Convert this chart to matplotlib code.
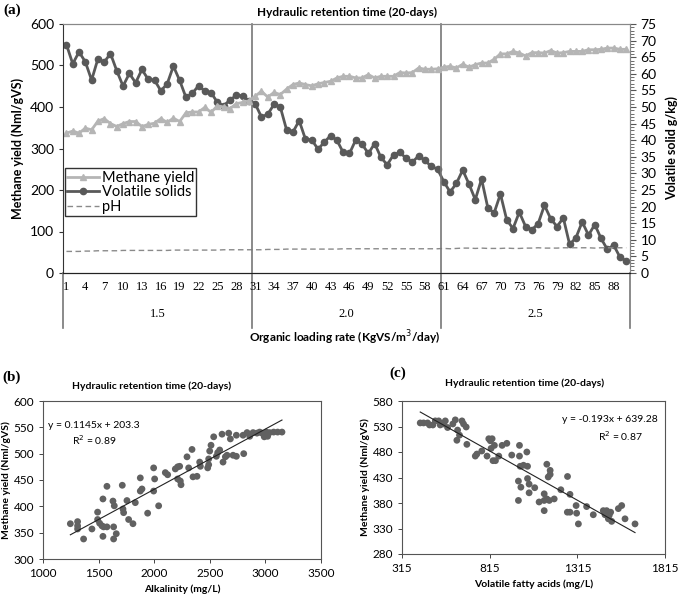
import matplotlib.pyplot as plt
import numpy as np
from matplotlib.ticker import MultipleLocator

# ---- panel (a) data, one value per day ----
days = np.arange(1, 91)
methane = [337, 342, 337, 349, 345, 366, 372, 360, 353, 360,
           365, 365, 353, 358, 361, 372, 363, 373, 365, 386,
           388, 388, 399, 387, 403, 400, 396, 408, 411, 415,
           426, 438, 424, 435, 430, 443, 454, 458, 454, 451,
           456, 459, 462, 470, 474, 474, 470, 470, 478, 470,
           474, 474, 474, 483, 482, 483, 494, 491, 491, 492,
           496, 498, 494, 503, 496, 502, 506, 506, 515, 528,
           528, 534, 530, 523, 531, 531, 530, 536, 530, 531,
           534, 534, 534, 538, 538, 539, 542, 542, 539, 539]
vs = [68.8, 63.0, 66.6, 63.6, 58.1, 64.5, 63.5, 66.1, 60.9, 56.3,
      60.1, 57.3, 61.3, 58.3, 58.1, 54.9, 56.9, 62.3, 58.0, 52.9,
      54.1, 56.4, 54.8, 54.3, 51.4, 50.4, 52.1, 53.5, 53.4, 51.9,
      51.0, 47.0, 47.8, 50.8, 50.0, 43.1, 42.4, 45.9, 40.3, 40.1,
      37.3, 39.4, 41.4, 40.0, 36.3, 36.0, 40.1, 38.8, 36.0, 39.0,
      34.8, 32.6, 35.6, 36.3, 34.6, 33.4, 35.3, 33.9, 32.1, 31.3,
      27.5, 24.4, 27.0, 31.0, 26.8, 22.1, 28.3, 19.6, 18.1, 23.8,
      16.0, 13.4, 18.3, 14.0, 13.0, 14.9, 20.4, 16.3, 14.0, 16.6,
      8.6, 10.6, 15.4, 11.4, 14.6, 10.4, 7.1, 8.4, 4.8, 3.6]
ph = [6.5, 6.5, 6.5, 6.6, 6.6, 6.7, 6.7, 6.7, 6.7, 6.8,
      6.8, 6.8, 6.8, 6.8, 6.8, 6.8, 6.8, 6.9, 6.9, 6.9,
      6.9, 6.9, 6.9, 6.9, 6.9, 7.0, 7.0, 7.0, 7.0, 7.0,
      7.0, 7.0, 7.1, 7.1, 7.1, 7.2, 7.2, 7.2, 7.2, 7.2,
      7.2, 7.2, 7.2, 7.2, 7.3, 7.3, 7.3, 7.3, 7.3, 7.3,
      7.3, 7.3, 7.3, 7.3, 7.3, 7.3, 7.3, 7.3, 7.3, 7.3,
      7.4, 7.3, 7.4, 7.5, 7.5, 7.4, 7.5, 7.4, 7.4, 7.4,
      7.5, 7.4, 7.4, 7.5, 7.5, 7.6, 7.5, 7.5, 7.5, 7.6,
      7.6, 7.6, 7.6, 7.6, 7.5, 7.6, 7.6, 7.6, 7.6, 7.6]
olr_labels = ['1.5', '2.0', '2.5']
olr_bounds = [30.5, 60.5]

# ---- panel (b) data ----
alk = [1246, 1311, 1311, 1311, 1365, 1440, 1491, 1491, 1509, 1530,
       1545, 1575, 1539, 1539, 1575, 1629, 1635, 1641, 1635, 1659,
       1713, 1719, 1725, 1755, 1770, 1809, 1830, 1875, 1875, 1890,
       1941, 1995, 2004, 1995, 2040, 2100, 2121, 2190, 2211, 2229,
       2211, 2235, 2241, 2295, 2310, 2340, 2349, 2385, 2409, 2415,
       2481, 2490, 2490, 2499, 2511, 2535, 2559, 2571, 2589, 2610,
       2619, 2640, 2655, 2670, 2685, 2709, 2739, 2739, 2805, 2799,
       2835, 2859, 2889, 2924, 2948, 2969, 2999, 3008, 3020, 3038,
       3074, 3110, 3149, 2990]
my_alk = [367, 371, 363, 357, 338, 357, 389, 375, 368, 363,
          361, 361, 414, 343, 438, 410, 361, 401, 338, 348,
          440, 395, 388, 411, 375, 367, 407, 454, 429, 433,
          387, 473, 452, 429, 401, 464, 460, 471, 475, 476,
          452, 448, 441, 494, 473, 508, 456, 457, 484, 476,
          473, 479, 490, 505, 516, 532, 495, 502, 507, 537,
          484, 494, 497, 539, 528, 497, 535, 495, 500, 535,
          540, 533, 540, 539, 541, 539, 537, 541, 533, 540,
          541, 541, 541, 532]

# ---- panel (c) data ----
vfa = [419, 438, 461, 472, 491, 505, 524, 533, 552, 562,
       575, 605, 619, 632, 628, 643, 657, 666, 681, 685,
       733, 742, 770, 800, 810, 819, 829, 823, 842, 834,
       848, 867, 886, 913, 941, 979, 985, 985, 989, 993,
       979, 1008, 1031, 1027, 1031, 1040, 1040, 1072, 1097, 1126,
       1126, 1126, 1141, 1141, 1149, 1160, 1160, 1155, 1183, 1221,
       1259, 1258, 1273, 1273, 1308, 1311, 1321, 1368, 1406, 1463,
       1473, 1482, 1492, 1497, 1505, 1511, 1549, 1568, 1587, 1644]
my_vfa = [537, 537, 537, 533, 533, 541, 541, 533, 535, 541,
          528, 535, 543, 523, 503, 513, 541, 535, 529, 495,
          472, 476, 482, 472, 506, 502, 506, 487, 493, 463,
          463, 472, 493, 497, 474, 423, 493, 472, 452, 411,
          385, 454, 452, 480, 428, 417, 400, 410, 382, 365,
          398, 385, 388, 456, 431, 436, 444, 385, 388, 406,
          432, 362, 397, 362, 375, 360, 339, 373, 357, 365,
          357, 365, 349, 356, 362, 344, 369, 375, 349, 339]
vfa_ticks = [315, 815, 1315, 1815]
my_vfa_ticks = [280, 330, 380, 430, 480, 530, 580]

sans = 'Lato'
serif = 'Liberation Serif'
plt.rcParams['font.family'] = sans

fig = plt.figure(figsize=(6.85, 5.99), dpi=100)

# ---------------- (a) ----------------
ax = fig.add_axes([63/685, 1-273/599, 567/685, 249/599])
ax2 = ax.twinx()

l1, = ax.plot(days, methane, color='#b5b5b5', marker='^', markersize=5,
              linewidth=2, label='Methane yield')
l2, = ax2.plot(days, vs, color='#595959', marker='o', markersize=4.5,
               linewidth=2, label='Volatile solids')
l3, = ax2.plot(days, ph, color='#8a8a8a', linestyle=(0, (4, 2.5)),
               linewidth=1, label='pH')
ax.set_zorder(ax2.get_zorder() + 1)
ax.patch.set_visible(False)

ax.set_xlim(0.45, 90.6)
ax.set_ylim(0, 600)
ax2.set_ylim(0, 75)
ax.yaxis.set_major_locator(MultipleLocator(100))
ax2.yaxis.set_major_locator(MultipleLocator(5))
ax2.yaxis.set_minor_locator(MultipleLocator(1))
ax.tick_params(axis='y', labelsize=10, length=3, width=0.8, colors='#333333', labelcolor='black')
ax2.tick_params(axis='y', which='major', labelsize=10, length=4, width=0.8, colors='#555555', labelcolor='black')
ax2.tick_params(axis='y', which='minor', length=3, width=0.6, colors='#555555')

xt = list(range(1, 89, 3))
ax.set_xticks(xt)
ax.set_xticklabels([str(t) for t in xt], fontfamily=serif, fontsize=9)
ax.tick_params(axis='x', length=0, pad=6)

for s in ['top', 'right']:
    ax.spines[s].set_color('#888888')
    ax2.spines[s].set_color('#888888')
ax.spines['left'].set_color('#333333')
ax.spines['bottom'].set_color('#222222')
ax2.spines['left'].set_visible(False)

# loading-rate group separators
trans = ax.get_xaxis_transform()
for b in olr_bounds:
    ax.plot([b, b], [1, -0.22], transform=trans, color='#777777',
            linewidth=1.2, clip_on=False, zorder=1)
for xa in [0, 1]:
    ax.plot([xa, xa], [0, -0.22], transform=ax.transAxes, color='#777777',
            linewidth=1.2, clip_on=False)
edges = [0.5, olr_bounds[0], olr_bounds[1], 90.5]
for k, lab in enumerate(olr_labels):
    ax.text((edges[k] + edges[k+1]) / 2, -0.165, lab, transform=trans,
            ha='center', va='center', fontfamily=serif, fontsize=9)

ax.set_ylabel('Methane yield (Nml/gVS)', fontsize=9, fontweight='bold', labelpad=4)
ax2.set_ylabel('Volatile solid g/kg)', fontsize=9, fontweight='bold', labelpad=6)
fig.text(347/685, 1-12/599, 'Hydraulic retention time (20-days)', ha='center',
         va='center', fontsize=8.5, fontweight='bold')
fig.text(345/685, 1-338/599, 'Organic loading rate (KgVS/m$^3$/day)', ha='center',
         va='center', fontsize=8.5, fontweight='bold')
fig.text(3/685, 1-10/599, '(a)', fontfamily=serif, fontweight='bold', fontsize=11,
         va='center')

leg = ax.legend(handles=[l1, l2, l3], loc='upper left', bbox_to_anchor=(0.003, 0.42),
                fontsize=10.5, frameon=True, fancybox=False, borderpad=0.15,
                handlelength=2.2, handletextpad=0.2, labelspacing=0.05,
                borderaxespad=0)
leg.get_frame().set_edgecolor('black')
leg.get_frame().set_linewidth(1.0)

# ---------------- (b) ----------------
axb = fig.add_axes([43/685, 1-559/599, 278/685, 158/599])
axb.scatter(alk, my_alk, s=24, color='#616161', edgecolors='none', zorder=3)
fx = np.array([min(alk), max(alk)])
axb.plot(fx, 0.1145 * fx + 203.3, color='#222222', linewidth=0.8, zorder=4)
axb.set_xlim(1000, 3500)
axb.set_ylim(300, 600)
axb.xaxis.set_major_locator(MultipleLocator(500))
axb.yaxis.set_major_locator(MultipleLocator(50))
axb.tick_params(labelsize=8.5, length=3, width=0.7, colors='#444444', labelcolor='black')
for s in axb.spines.values():
    s.set_color('#555555')
axb.set_xlabel('Alkalinity (mg/L)', fontsize=7.5, fontweight='bold', labelpad=4)
axb.set_ylabel('Methane yield (Nml/gVS)', fontsize=7.5, fontweight='bold', labelpad=2)
fig.text(152/685, 1-386/599, 'Hydraulic retention time (20-days)', ha='center',
         va='center', fontsize=7.5, fontweight='bold')
fig.text(2/685, 1-377/599, '(b)', fontfamily=serif, fontweight='bold', fontsize=11,
         va='center')
fig.text(48/685, 1-425/599, 'y = 0.1145x + 203.3', fontsize=7.5, va='center')
fig.text(94/685, 1-440/599, 'R$^2$ = 0.89', fontsize=7.5, va='center', ha='center')

# ---------------- (c) ----------------
axc = fig.add_axes([402/685, 1-554/599, 263/685, 153/599])
axc.scatter(vfa, my_vfa, s=24, color='#616161', edgecolors='none', zorder=3)
fx = np.array([min(vfa), max(vfa)])
axc.plot(fx, -0.193 * fx + 639.28, color='#222222', linewidth=0.8, zorder=4)
axc.set_xlim(315, 1815)
axc.set_ylim(280, 580)
axc.set_xticks(vfa_ticks)
axc.set_yticks(my_vfa_ticks)
axc.tick_params(labelsize=8.5, length=3, width=0.7, colors='#444444', labelcolor='black')
for s in axc.spines.values():
    s.set_color('#555555')
axc.set_xlabel('Volatile fatty acids (mg/L)', fontsize=7.5, fontweight='bold', labelpad=4)
axc.set_ylabel('Methane yield (Nml/gVS)', fontsize=7.5, fontweight='bold', labelpad=2)
fig.text(525/685, 1-383/599, 'Hydraulic retention time (20-days)', ha='center',
         va='center', fontsize=7.5, fontweight='bold')
fig.text(389/685, 1-373/599, '(c)', fontfamily=serif, fontweight='bold', fontsize=11,
         va='center')
fig.text(658/685, 1-420/599, 'y = -0.193x + 639.28', fontsize=7.5, va='center', ha='right')
fig.text(620/685, 1-436/599, 'R$^2$ = 0.87', fontsize=7.5, va='center', ha='center')

plt.savefig('out.png', dpi=100)
